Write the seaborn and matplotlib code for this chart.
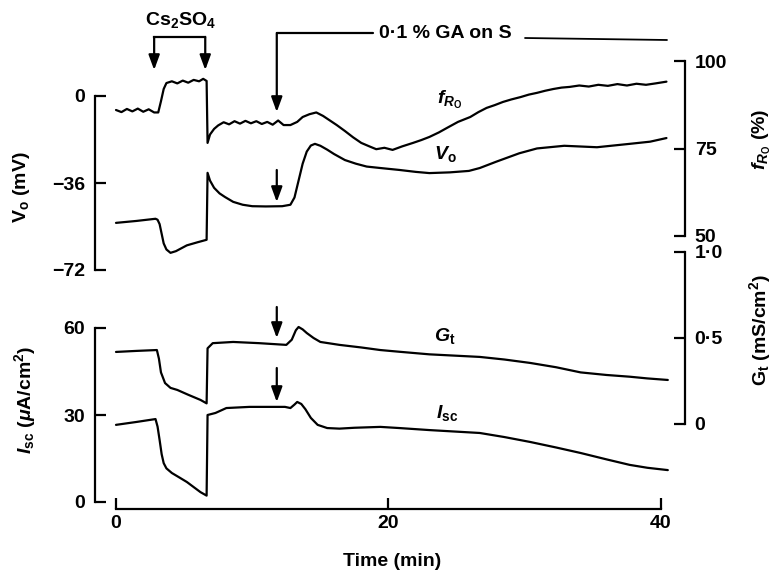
import matplotlib
matplotlib.use("Agg")
import matplotlib.pyplot as plt
import numpy as np
import pandas as pd
import seaborn as sns

# ---------------- data ----------------
time_ticks = [0, 20, 40]
time_tick_labels = ["0", "20", "40"]

vo_ticks = [-72, -36, 0]
vo_tick_labels = ["\u221272", "\u221236", "0"]
fro_ticks = [50, 75, 100]
fro_tick_labels = ["50", "75", "100"]
isc_ticks = [0, 30, 60]
isc_tick_labels = ["0", "30", "60"]
gt_ticks = [0, 0.5, 1.0]
gt_tick_labels = ["0", "0\u00b75", "1\u00b70"]

# event times (min): Cs2SO4 on / off, 0.1 % GA on S
cs_on, cs_off, ga_on = 2.8, 6.55, 11.8

fro_t = [0.0, 0.4, 0.8, 1.2, 1.6, 2.0, 2.4, 2.8, 3.1, 3.3, 3.5, 3.7, 4.1, 4.5, 4.9,
         5.3, 5.7, 6.1, 6.4, 6.65, 6.72, 6.9, 7.2, 7.5, 7.9, 8.3, 8.7, 9.1, 9.5,
         9.9, 10.3, 10.7, 11.1, 11.5, 11.9, 12.3, 12.8, 13.3, 13.7, 14.2, 14.7,
         15.2, 15.7, 16.2, 16.8, 17.4, 18.0, 18.6, 19.1, 19.7, 20.3, 21.0, 21.8,
         22.4, 23.0, 23.7, 24.3, 25.1, 26.0, 26.6, 27.2, 27.8, 28.4, 29.0, 29.7,
         30.3, 30.9, 31.5, 32.1, 32.7, 33.3, 34.0, 34.7, 35.4, 36.1, 36.8, 37.5,
         38.2, 38.9, 39.6, 40.4]
fro_v = [86.0, 85.4, 86.3, 85.6, 86.4, 85.5, 86.2, 85.3, 85.3, 88.5, 92.0, 93.7,
         94.2, 93.6, 94.4, 93.8, 94.6, 94.2, 94.9, 94.3, 76.6, 79.0, 80.6, 81.6,
         82.5, 81.9, 82.8, 82.1, 82.9, 82.2, 82.8, 82.0, 82.6, 81.8, 83.0, 81.7,
         81.7, 82.6, 84.0, 84.8, 85.3, 84.3, 83.0, 81.7, 80.0, 78.2, 76.6, 75.6,
         74.8, 75.2, 74.6, 75.6, 76.6, 77.4, 78.3, 79.6, 80.9, 82.6, 84.0, 85.4,
         86.6, 87.4, 88.3, 89.0, 89.7, 90.4, 90.9, 91.5, 92.0, 92.4, 92.6, 93.0,
         92.7, 93.2, 92.9, 93.4, 93.0, 93.5, 93.2, 93.6, 94.1]

vo_t = [0.0, 1.5, 2.9, 3.05, 3.2, 3.35, 3.5, 3.7, 4.0, 4.4, 5.2, 6.0, 6.65, 6.72,
        6.9, 7.2, 7.6, 8.0, 8.6, 9.3, 10.0, 11.0, 12.2, 12.8, 13.1, 13.4, 13.7,
        14.0, 14.3, 14.6, 15.0, 15.5, 16.0, 16.8, 17.6, 18.4, 19.4, 20.8, 22.0,
        23.0, 24.5, 25.9, 26.7, 27.9, 29.6, 30.9, 32.9, 35.3, 37.7, 39.2, 40.4]
vo_v = [-52.5, -51.7, -50.8, -51.2, -53.0, -57.0, -61.0, -63.5, -64.9, -64.2,
        -61.8, -60.5, -59.5, -31.8, -35.0, -38.0, -40.3, -41.8, -43.8, -45.0,
        -45.6, -45.7, -45.6, -45.0, -42.0, -35.0, -28.0, -23.0, -20.5, -19.8,
        -20.6, -22.2, -24.0, -26.5, -28.0, -29.2, -29.8, -30.6, -31.4, -31.9,
        -31.6, -31.0, -29.8, -27.2, -23.7, -21.7, -20.6, -21.2, -19.8, -18.9,
        -17.4]

gt_t = [0.0, 1.5, 3.0, 3.15, 3.3, 3.6, 4.0, 4.5, 5.3, 6.2, 6.65, 6.72, 7.1, 8.6,
        10.5, 12.5, 12.9, 13.2, 13.4, 13.7, 14.0, 14.5, 15.0, 16.4, 18.0, 19.4,
        20.8, 23.0, 26.7, 28.5, 30.4, 32.3, 34.1, 36.0, 37.7, 39.0, 40.5]
gt_v = [0.419, 0.425, 0.43, 0.38, 0.30, 0.238, 0.21, 0.198, 0.17, 0.14, 0.12,
        0.44, 0.47, 0.477, 0.47, 0.46, 0.49, 0.545, 0.564, 0.55, 0.529, 0.50,
        0.477, 0.46, 0.445, 0.43, 0.42, 0.405, 0.39, 0.375, 0.355, 0.33, 0.30,
        0.285, 0.275, 0.265, 0.256]

isc_t = [0.0, 1.5, 2.9, 3.05, 3.2, 3.35, 3.5, 3.7, 4.1, 4.6, 5.2, 6.2, 6.65, 6.72,
         7.3, 8.1, 9.8, 12.4, 12.8, 13.1, 13.3, 13.6, 13.9, 14.3, 14.8, 15.5, 16.4,
         17.5, 19.4, 20.8, 23.0, 26.7, 28.5, 30.4, 32.3, 34.1, 36.0, 37.7, 39.0,
         40.5]
isc_v = [26.6, 27.6, 28.6, 26.0, 21.4, 16.5, 13.4, 11.6, 10.0, 8.6, 6.9, 3.4, 2.2,
         30.0, 30.7, 32.4, 32.8, 32.8, 32.4, 33.6, 34.5, 33.8, 32.0, 29.0, 26.6,
         25.5, 25.3, 25.6, 25.9, 25.5, 24.8, 23.8, 22.4, 20.7, 18.8, 16.9, 14.7,
         12.8, 11.8, 11.0]

# ---------------- style ----------------
sns.set_theme(style="ticks")
plt.rcParams["font.family"] = ["Liberation Sans", "DejaVu Sans"]
plt.rcParams["font.weight"] = "bold"
plt.rcParams["text.color"] = "black"
plt.rcParams["axes.labelcolor"] = "black"
plt.rcParams["xtick.color"] = "black"
plt.rcParams["ytick.color"] = "black"
plt.rcParams["mathtext.fontset"] = "custom"
plt.rcParams["mathtext.rm"] = "Liberation Sans:bold"
plt.rcParams["mathtext.it"] = "Liberation Sans:bold:italic"
plt.rcParams["mathtext.bf"] = "Liberation Sans:bold"
plt.rcParams["mathtext.sf"] = "Liberation Sans:bold"
plt.rcParams["axes.unicode_minus"] = True

W, H = 775, 575
FS = 14
LW = 1.6
fig = plt.figure(figsize=(W / 100, H / 100), dpi=100)


def px_rect(x0, x1, ytop, ybot):
    return [x0 / W, 1 - ybot / H, (x1 - x0) / W, (ybot - ytop) / H]


def ylims(va, ya, vb, yb, ytop, ybot):
    s = (ya - yb) / (vb - va)
    return va - (ybot - ya) / s, va + (ya - ytop) / s


# x mapping: 0 min at px 116, 40 min at px 661, axes spans 95..685
XS = (661 - 116) / 40.0
XLIM = (0 - (116 - 95) / XS, 40 + (685 - 661) / XS)


def tx(t):
    return 116 + t * XS


# ---------------- top panel ----------------
TOP = (40, 285)
ax_v = fig.add_axes(px_rect(95, 685, *TOP))
ax_f = ax_v.twinx()
ax_v.set_xlim(*XLIM)
ax_v.set_ylim(*ylims(0, 96, -72, 270, *TOP))
ax_f.set_ylim(*ylims(100, 61, 50, 236, *TOP))

sns.lineplot(x=vo_t, y=vo_v, ax=ax_v, color="black", lw=LW, sort=False, estimator=None)
sns.lineplot(x=fro_t, y=fro_v, ax=ax_f, color="black", lw=LW, sort=False, estimator=None)

# ---------------- bottom panel ----------------
BOT = (245, 509)
ax_i = fig.add_axes(px_rect(95, 685, *BOT))
ax_g = ax_i.twinx()
ax_i.set_xlim(*XLIM)
ax_i.set_ylim(*ylims(0, 502, 60, 328, *BOT))
ax_g.set_ylim(*ylims(0, 424, 1.0, 252, *BOT))

sns.lineplot(x=isc_t, y=isc_v, ax=ax_i, color="black", lw=LW, sort=False, estimator=None)
sns.lineplot(x=gt_t, y=gt_v, ax=ax_g, color="black", lw=LW, sort=False, estimator=None)

for ax in (ax_v, ax_f, ax_i, ax_g):
    ax.patch.set_alpha(0)
    ax.set_xlabel("")
    ax.set_ylabel("")
    for sp in ax.spines.values():
        sp.set_visible(False)
        sp.set_linewidth(LW)
        sp.set_color("black")
    ax.tick_params(axis="both", direction="in", length=8, width=LW, colors="black",
                   labelsize=FS, pad=7)

ax_v.spines["left"].set_visible(True)
ax_v.spines["left"].set_bounds(-72, 0)
ax_v.set_yticks(vo_ticks, vo_tick_labels)
ax_v.set_xticks([])
ax_v.tick_params(axis="x", bottom=False, labelbottom=False)

ax_f.spines["right"].set_visible(True)
ax_f.spines["right"].set_bounds(50, 100)
ax_f.set_yticks(fro_ticks, fro_tick_labels)
ax_f.tick_params(axis="x", bottom=False, labelbottom=False)

ax_i.spines["left"].set_visible(True)
ax_i.spines["left"].set_bounds(0, 60)
ax_i.spines["bottom"].set_visible(True)
ax_i.spines["bottom"].set_bounds(0, 40)
ax_i.set_yticks(isc_ticks, isc_tick_labels)
ax_i.set_xticks(time_ticks, time_tick_labels)
ax_i.tick_params(axis="x", pad=4)

ax_g.spines["right"].set_visible(True)
ax_g.spines["right"].set_bounds(0, 1.0)
ax_g.set_yticks(gt_ticks, gt_tick_labels)

for lab in (ax_v.get_yticklabels() + ax_f.get_yticklabels() + ax_i.get_yticklabels()
            + ax_g.get_yticklabels() + ax_i.get_xticklabels()):
    lab.set_fontweight("bold")
    lab.set_color("black")

# trace labels
ax_f.text(24.5, 88.9, r"$f_{R_{\rm O}}$", ha="center", va="center", fontsize=FS)
ax_v.text(24.2, -24.0, r"$V_{\rm o}$", ha="center", va="center", fontsize=FS)
ax_g.text(24.1, 0.51, r"$G_{\rm t}$", ha="center", va="center", fontsize=FS)
ax_i.text(24.3, 30.7, r"$I_{\rm sc}$", ha="center", va="center", fontsize=FS)

# ---------------- overlay for annotations (pixel coordinates) ----------------
ov = fig.add_axes([0, 0, 1, 1])
ov.set_xlim(0, W)
ov.set_ylim(H, 0)
ov.axis("off")
ov.patch.set_alpha(0)

arrow = dict(arrowstyle="-|>,head_length=0.6,head_width=0.22", color="black",
             lw=LW, shrinkA=0, shrinkB=0, mutation_scale=15)


def down_arrow(x, y0, y1):
    ov.annotate("", xy=(x, y1), xytext=(x, y0), arrowprops=arrow)


# Cs2SO4 bracket
x1, x2 = tx(cs_on), tx(cs_off)
ov.plot([x1, x2], [37, 37], color="black", lw=LW, solid_capstyle="projecting")
down_arrow(x1, 37, 70)
down_arrow(x2, 37, 70)
ov.text((x1 + x2) / 2 + 1, 20, r"Cs$_{2}$SO$_{4}$", ha="center", va="center", fontsize=FS)

# GA arrow
xg = tx(ga_on)
ov.plot([xg, 373], [33, 33], color="black", lw=LW)
down_arrow(xg, 33, 112)
ov.text(379, 34, "0\u00b71 % GA on S", ha="left", va="center", fontsize=FS)
ov.plot([525, 667], [38, 40], color="black", lw=LW * 0.8)

# small arrows
down_arrow(xg, 170, 202)
down_arrow(xg, 307, 338)
down_arrow(xg, 368, 402)

# axis labels
ov.text(22, 187, r"V$_{\rm o}$ (mV)", rotation=90, ha="center", va="center", fontsize=FS)
ov.text(25, 400, r"$I_{\rm sc}$ ($\mu$A/cm$^{2}$)", rotation=90, ha="center",
        va="center", fontsize=FS)
ov.text(762, 139, r"$f_{R_{\rm O}}$ (%)", rotation=90, ha="center", va="center", fontsize=FS)
ov.text(760, 330, r"G$_{\rm t}$ (mS/cm$^{2}$)", rotation=90, ha="center", va="center",
        fontsize=FS)
ov.text(392, 562, "Time (min)", ha="center", va="center", fontsize=FS)

fig.savefig("out.png", dpi=100)
